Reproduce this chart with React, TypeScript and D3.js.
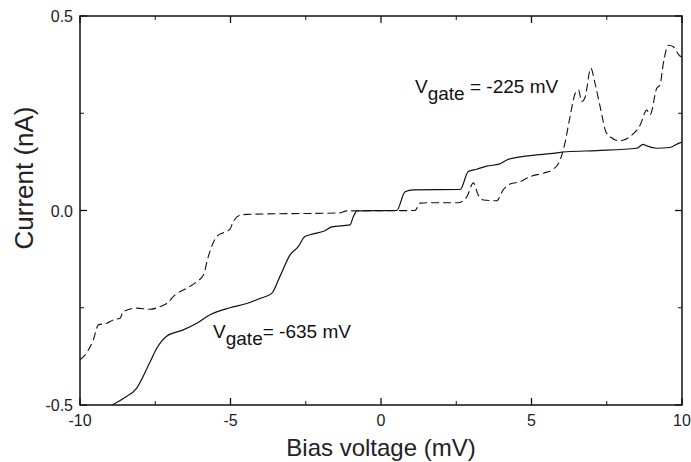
import React from "react";
import * as d3 from "d3";

// Vgate = -635 mV (solid)
const solidV = [-8.94, -8.56, -8.12, -7.67, -7.45, -7.12, -6.57, -6.12, -5.68, -5.02, -4.46, -4.02, -3.63, -3.36, -3.02, -2.75, -2.53, -2.25, -1.86, -1.64, -1.03, -0.92, -0.79, 0.52, 0.8, 1.07, 2.63, 2.9, 3.18, 3.51, 3.95, 4.18, 4.62, 5.17, 5.72, 6.17, 7.17, 8.5, 8.71, 8.83, 9.16, 9.6, 9.93, 10.0];
const solidI = [-0.5, -0.483, -0.457, -0.389, -0.354, -0.323, -0.307, -0.29, -0.268, -0.25, -0.239, -0.226, -0.213, -0.17, -0.114, -0.093, -0.067, -0.06, -0.052, -0.042, -0.037, -0.016, -0.001, 0.0, 0.048, 0.053, 0.054, 0.1, 0.106, 0.114, 0.12, 0.13, 0.138, 0.143, 0.147, 0.151, 0.154, 0.16, 0.17, 0.166, 0.16, 0.162, 0.174, 0.175];

// Vgate = -225 mV (dashed)
const dashV = [-10.0, -9.78, -9.56, -9.39, -9.11, -8.89, -8.67, -8.56, -8.12, -7.67, -7.34, -7.12, -6.84, -6.46, -6.12, -5.9, -5.74, -5.46, -5.24, -5.02, -4.91, -4.68, -4.46, -1.36, -1.14, 1.13, 1.3, 1.63, 2.57, 2.85, 3.07, 3.23, 3.4, 3.84, 4.06, 4.29, 4.62, 4.95, 5.39, 5.72, 5.95, 6.11, 6.28, 6.45, 6.56, 6.67, 6.78, 6.97, 7.11, 7.28, 7.5, 7.94, 8.27, 8.61, 8.83, 8.94, 9.16, 9.27, 9.38, 9.55, 9.71, 9.93, 10.0];
const dashI = [-0.384, -0.366, -0.333, -0.294, -0.29, -0.281, -0.277, -0.26, -0.251, -0.254, -0.247, -0.239, -0.217, -0.2, -0.183, -0.166, -0.119, -0.067, -0.057, -0.048, -0.029, -0.012, -0.01, -0.006, -0.001, 0.0, 0.019, 0.02, 0.02, 0.035, 0.071, 0.04, 0.027, 0.025, 0.053, 0.068, 0.074, 0.087, 0.096, 0.106, 0.13, 0.173, 0.241, 0.301, 0.31, 0.28, 0.291, 0.366, 0.327, 0.267, 0.198, 0.179, 0.19, 0.22, 0.258, 0.246, 0.314, 0.323, 0.378, 0.425, 0.421, 0.397, 0.395];

const xMajor = [-10, -5, 0, 5, 10];
const xMinor = [-7.5, -2.5, 2.5, 7.5];
const yMajor = [-0.5, 0.0, 0.5];
const yMinor = [-0.25, 0.25];
const xLabels = ["-10", "-5", "0", "5", "10"];
const yLabels = ["-0.5", "0.0", "0.5"];

const W = 691, H = 462;
const L = 80, R = 682, T = 16, B = 405;
const font = "'Liberation Sans', Arial, sans-serif";

export default function App() {
  const x = d3.scaleLinear().domain([-10, 10]).range([L, R]);
  const y = d3.scaleLinear().domain([-0.5, 0.5]).range([B, T]);
  const line = d3
    .line<[number, number]>()
    .x((d) => x(d[0]))
    .y((d) => y(d[1]))
    .curve(d3.curveMonotoneX);
  const solid = solidV.map((v, i) => [v, solidI[i]] as [number, number]);
  const dashed = dashV.map((v, i) => [v, dashI[i]] as [number, number]);
  const major = 7, minor = 4;
  return (
    <svg width={W} height={H} style={{ position: "fixed", left: 0, top: 0, background: "#fff" }} fontFamily={font}>
      <defs>
        <clipPath id="plot">
          <rect x={L} y={T} width={R - L} height={B - T} />
        </clipPath>
      </defs>
      <g clipPath="url(#plot)">
        <path d={line(dashed) || ""} fill="none" stroke="#111" strokeWidth={1.1} strokeDasharray="8,4" />
        <path d={line(solid) || ""} fill="none" stroke="#111" strokeWidth={1.2} />
      </g>
      <rect x={L} y={T} width={R - L} height={B - T} fill="none" stroke="#111" strokeWidth={1.5} />
      {xMajor.map((v) => (
        <g key={"xm" + v}>
          <line x1={x(v)} x2={x(v)} y1={B} y2={B - major} stroke="#111" strokeWidth={1.3} />
          <line x1={x(v)} x2={x(v)} y1={T} y2={T + major} stroke="#111" strokeWidth={1.3} />
        </g>
      ))}
      {xMinor.map((v) => (
        <g key={"xn" + v}>
          <line x1={x(v)} x2={x(v)} y1={B} y2={B - minor} stroke="#111" strokeWidth={1} />
          <line x1={x(v)} x2={x(v)} y1={T} y2={T + minor} stroke="#111" strokeWidth={1} />
        </g>
      ))}
      {yMajor.map((v) => (
        <g key={"ym" + v}>
          <line x1={L} x2={L + major} y1={y(v)} y2={y(v)} stroke="#111" strokeWidth={1.3} />
          <line x1={R} x2={R - major} y1={y(v)} y2={y(v)} stroke="#111" strokeWidth={1.3} />
        </g>
      ))}
      {yMinor.map((v) => (
        <g key={"yn" + v}>
          <line x1={L} x2={L + minor} y1={y(v)} y2={y(v)} stroke="#111" strokeWidth={1} />
          <line x1={R} x2={R - minor} y1={y(v)} y2={y(v)} stroke="#111" strokeWidth={1} />
        </g>
      ))}
      {xMajor.map((v, i) => (
        <text key={"xl" + v} x={x(v)} y={426} textAnchor="middle" fontSize={16} fill="#222">
          {xLabels[i]}
        </text>
      ))}
      {yMajor.map((v, i) => (
        <text key={"yl" + v} x={L - 7} y={y(v) + 6} textAnchor="end" fontSize={16} fill="#222">
          {yLabels[i]}
        </text>
      ))}
      <text x={(L + R) / 2} y={456} textAnchor="middle" fontSize={24} fill="#222">
        Bias voltage (mV)
      </text>
      <text transform={`translate(33,178) rotate(-90)`} textAnchor="middle" fontSize={26} fill="#222">
        Current (nA)
      </text>
      <text x={x(1.13)} y={y(0.301)} fontSize={19} fill="#111">
        V<tspan dy={7}>gate</tspan>
        <tspan dy={-7}> = -225 mV</tspan>
      </text>
      <text x={x(-5.58)} y={y(-0.329)} fontSize={19} fill="#111">
        V<tspan dy={7}>gate</tspan>
        <tspan dy={-7}>= -635 mV</tspan>
      </text>
    </svg>
  );
}
